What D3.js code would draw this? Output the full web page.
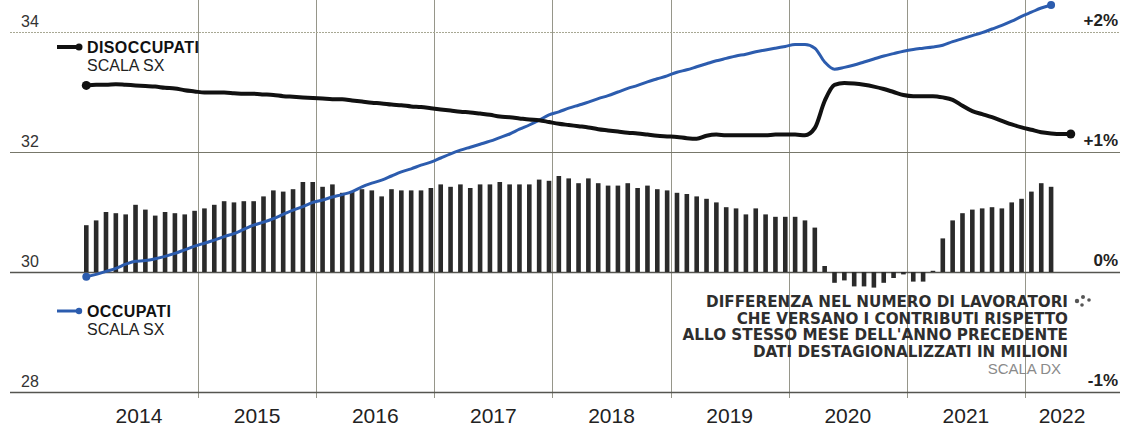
<!DOCTYPE html>
<html>
<head>
<meta charset="utf-8">
<script src="https://cdn.jsdelivr.net/npm/d3@7"></script>
<style>
  html, body { margin: 0; padding: 0; background: #ffffff; }
  svg { display: block; }
</style>
</head>
<body>
<svg id="chart" width="1123" height="432"></svg>
<script>
// ---------------- DATA ----------------
// month index 0 = Jan 2014
const years = ["2014","2015","2016","2017","2018","2019","2020","2021","2022"];
const leftTicks = [28, 30, 32, 34];
const rightTicks = [-1, 0, 1, 2];
const rightTickLabels = ["-1%", "0%", "+1%", "+2%"];

// Bars: yearly change in contributing workers (right scale, %), monthly from Jan 2014
const barValues = [
  0.39,0.43,0.50,0.49,0.48,0.56,0.52,0.47,0.50,0.49,0.48,0.51,
  0.53,0.56,0.59,0.58,0.59,0.59,0.63,0.68,0.67,0.69,0.75,0.75,
  0.71,0.73,0.66,0.67,0.69,0.68,0.63,0.69,0.68,0.68,0.68,0.70,
  0.73,0.71,0.73,0.70,0.73,0.73,0.75,0.73,0.73,0.73,0.77,0.76,
  0.80,0.78,0.74,0.78,0.74,0.72,0.72,0.74,0.70,0.72,0.69,0.68,
  0.66,0.65,0.63,0.61,0.58,0.54,0.53,0.48,0.53,0.48,0.46,0.46,
  0.46,0.43,0.37,0.05,-0.09,-0.07,-0.12,-0.12,-0.13,-0.09,-0.05,-0.02,
  -0.08,-0.08,0.01,0.28,0.43,0.49,0.52,0.53,0.54,0.53,0.58,0.61,
  0.67,0.74,0.71
];

// Disoccupati (left scale), monthly from Jan 2014 to May 2022
const disoccupati = [
  33.11,33.12,33.12,33.13,33.12,33.11,33.10,33.09,33.07,33.06,33.03,33.01,
  32.99,32.99,32.99,32.98,32.97,32.97,32.96,32.95,32.93,32.92,32.91,32.90,
  32.89,32.88,32.88,32.86,32.84,32.82,32.81,32.79,32.78,32.76,32.75,32.73,
  32.71,32.69,32.67,32.66,32.64,32.62,32.59,32.58,32.56,32.54,32.53,32.50,
  32.47,32.45,32.43,32.41,32.38,32.36,32.34,32.32,32.31,32.29,32.27,32.26,
  32.25,32.23,32.22,32.27,32.29,32.28,32.28,32.28,32.28,32.28,32.29,32.29,
  32.29,32.28,32.40,32.85,33.12,33.15,33.14,33.12,33.09,33.05,33.00,32.95,
  32.93,32.93,32.93,32.91,32.87,32.77,32.68,32.63,32.58,32.52,32.46,32.41,
  32.37,32.33,32.31,32.30,32.30
];

// Occupati (left scale), monthly from Jan 2014 to Mar 2022
const occupati = [
  29.92,29.96,30.01,30.06,30.13,30.18,30.19,30.22,30.26,30.31,30.37,30.43,
  30.48,30.53,30.59,30.64,30.71,30.78,30.83,30.89,30.96,31.03,31.09,31.16,
  31.20,31.25,31.29,31.34,31.42,31.48,31.53,31.60,31.67,31.72,31.78,31.83,
  31.90,31.97,32.03,32.08,32.13,32.18,32.24,32.30,32.38,32.45,32.53,32.62,
  32.67,32.73,32.78,32.83,32.89,32.94,33.00,33.06,33.11,33.17,33.22,33.27,
  33.33,33.37,33.42,33.47,33.52,33.56,33.60,33.63,33.67,33.70,33.73,33.76,
  33.79,33.79,33.73,33.50,33.38,33.41,33.45,33.50,33.55,33.60,33.64,33.68,
  33.71,33.73,33.75,33.78,33.84,33.89,33.94,33.99,34.05,34.11,34.18,34.26,
  34.33,34.40,34.45
];

const legendDis = ["DISOCCUPATI", "SCALA SX"];
const legendOcc = ["OCCUPATI", "SCALA SX"];
const noteLines = [
  "DIFFERENZA NEL NUMERO DI LAVORATORI",
  "CHE VERSANO I CONTRIBUTI RISPETTO",
  "ALLO STESSO MESE DELL'ANNO PRECEDENTE",
  "DATI DESTAGIONALIZZATI IN MILIONI"
];
const noteScale = "SCALA DX";

// ---------------- LAYOUT ----------------
const svg = d3.select("#chart");
const W = 1123, H = 432;
const plotTop = 32, plotBottom = 392;
const gridLeft = 10, gridRight = 1120;
const monthOffset = 0.65;

const x = d3.scaleLinear().domain([0, 96]).range([79.9, 1025]);
const yL = d3.scaleLinear().domain([28, 34]).range([plotBottom, plotTop]);
const yR = d3.scaleLinear().domain([-1, 2]).range([plotBottom, plotTop]);

svg.append("rect").attr("width", W).attr("height", H).attr("fill", "#ffffff");

const font = "'Liberation Sans', Arial, sans-serif";

// vertical year gridlines
const vGrid = svg.append("g");
years.slice(1).forEach((y, k) => {
  const xx = Math.round(x(12 * (k + 1))) + 0.5;
  vGrid.append("line")
    .attr("x1", xx).attr("x2", xx).attr("y1", 0).attr("y2", 398)
    .attr("stroke", "#96968a").attr("stroke-width", 1);
});

// horizontal gridlines
const hGrid = svg.append("g");
leftTicks.forEach(t => {
  const yy = Math.round(yL(t)) + 0.5;
  const strong = (t === 30 || t === 28);
  hGrid.append("line")
    .attr("x1", gridLeft).attr("x2", gridRight).attr("y1", yy).attr("y2", yy)
    .attr("stroke", strong ? "#555550" : (t === 32 ? "#77776a" : "#a8a894"))
    .attr("stroke-width", strong ? 1.6 : 1)
    .attr("stroke-dasharray", t === 34 ? "2,1" : null);
});

// left axis labels
const axL = d3.axisLeft(yL).tickValues(leftTicks).tickSize(0).tickFormat(d3.format("d"));
const gL = svg.append("g").attr("transform", "translate(21,0)").call(axL);
gL.select(".domain").remove();
gL.selectAll("text")
  .attr("x", 0).attr("dy", null).attr("y", -6)
  .attr("text-anchor", "start")
  .style("font-family", font).style("font-size", "16px").attr("fill", "#333");

// right axis labels
const axR = d3.axisRight(yR).tickValues(rightTicks).tickSize(0)
  .tickFormat(d => rightTickLabels[rightTicks.indexOf(d)]);
const gR = svg.append("g").attr("transform", "translate(1118,0)").call(axR);
gR.select(".domain").remove();
gR.selectAll("text")
  .attr("x", 0).attr("dy", null).attr("y", -7)
  .attr("text-anchor", "end")
  .style("font-family", font).style("font-size", "17px").style("font-weight", "bold").attr("fill", "#222");

// bars
const barW = 4.6;
svg.append("g").selectAll("rect").data(barValues).join("rect")
  .attr("x", (d, i) => x(i + monthOffset) - barW / 2)
  .attr("width", barW)
  .attr("y", d => yR(Math.max(0, d)))
  .attr("height", d => Math.max(1.2, Math.abs(yR(d) - yR(0))))
  .attr("fill", "#2a2a2a");

// lines
const lineL = d3.line()
  .x((d, i) => x(i + monthOffset))
  .y(d => yL(d))
  .curve(d3.curveMonotoneX);

svg.append("path").datum(occupati)
  .attr("d", lineL).attr("fill", "none")
  .attr("stroke", "#2c5cae").attr("stroke-width", 3)
  .attr("stroke-linejoin", "round").attr("stroke-linecap", "round");

svg.append("path").datum(disoccupati)
  .attr("d", lineL).attr("fill", "none")
  .attr("stroke", "#111").attr("stroke-width", 4)
  .attr("stroke-linejoin", "round").attr("stroke-linecap", "round");

// end dots
const dots = svg.append("g");
[[occupati, "#2c5cae", 4], [disoccupati, "#111", 4.5]].forEach(([arr, col, r]) => {
  [0, arr.length - 1].forEach(i => {
    dots.append("circle")
      .attr("cx", x(i + monthOffset)).attr("cy", yL(arr[i]))
      .attr("r", r).attr("fill", col);
  });
});

// year labels
const yearG = svg.append("g");
years.forEach((y, k) => {
  const xx = Math.min(x(12 * k + 6), 1062);
  yearG.append("text")
    .attr("x", xx).attr("y", 423)
    .attr("text-anchor", "middle")
    .style("font-family", font).style("font-size", "21px")
    .attr("fill", "#222").text(y);
});

// legends
function legend(lines, yMark, color, sw, r) {
  const g = svg.append("g");
  g.append("line").attr("x1", 57).attr("x2", 79).attr("y1", yMark).attr("y2", yMark)
    .attr("stroke", color).attr("stroke-width", sw);
  g.append("circle").attr("cx", 79).attr("cy", yMark).attr("r", r).attr("fill", color);
  g.append("text").attr("x", 87).attr("y", yMark + 6)
    .style("font-family", font).style("font-size", "16px").style("font-weight", "bold")
    .style("letter-spacing", "0.4px").attr("fill", "#111").text(lines[0]);
  g.append("text").attr("x", 87).attr("y", yMark + 24)
    .style("font-family", font).style("font-size", "16px")
    .attr("fill", "#222").text(lines[1]);
}
legend(legendDis, 47, "#111", 4, 3.5);
legend(legendOcc, 311, "#2c5cae", 3, 3.2);

// note
const noteG = svg.append("g");
noteLines.forEach((t, i) => {
  noteG.append("text")
    .attr("x", 1068).attr("y", 307 + i * 16.7)
    .attr("text-anchor", "end")
    .style("font-family", "'DejaVu Sans', sans-serif").style("font-size", "15.2px")
    .style("font-weight", "bold").attr("fill", "#2e2e2e").text(t);
});
noteG.append("text")
  .attr("x", 1061).attr("y", 374)
  .attr("text-anchor", "end")
  .style("font-family", font).style("font-size", "15px")
  .attr("fill", "#8a8a8a").text(noteScale);
// small people icon
[[1077, 301, 2.2], [1083, 297, 2], [1082, 305, 1.8], [1089, 300, 1.8]].forEach(([cx, cy, r]) => {
  noteG.append("circle").attr("cx", cx).attr("cy", cy).attr("r", r).attr("fill", "#555");
});
</script>
</body>
</html>
